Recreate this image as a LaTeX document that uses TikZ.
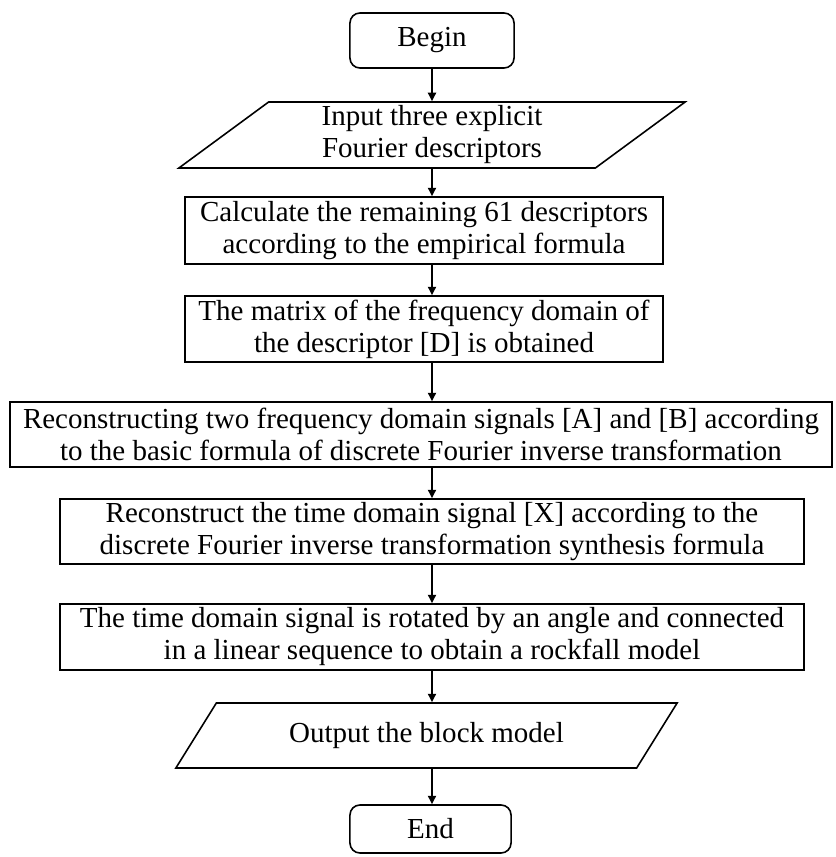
\documentclass[tikz,border=0pt]{standalone}
\usepackage{fontspec}
\setmainfont{Liberation Serif}
\usetikzlibrary{shapes.geometric,arrows.meta}

\begin{document}
\begin{tikzpicture}[x=0.01cm,y=-0.01cm]

	\useasboundingbox (0,0) rectangle (836,857);

	\tikzset{
		txt/.style={font=\fontsize{8.25}{9.1}\selectfont,align=center,inner sep=0pt,line width=0.45pt},
		terminal/.style={txt,draw,rounded corners=0.1cm},
		process/.style={txt,draw},
		io/.style={txt,draw,trapezium,trapezium left angle=33,trapezium right angle=147,trapezium stretches body},
		arr/.style={-{Triangle[length=2.4pt,width=2.3pt]},line width=0.45pt}
	}

	% begin and input
	\node[terminal,minimum width=1.64cm,minimum height=0.55cm] (begin) at (432,40.5) {Begin};
	\node[io,minimum width=5.06cm,minimum height=0.66cm] (input) at (432,135) {Input three explicit\\Fourier descriptors};

	% descriptors
	\node[process,minimum width=4.78cm,minimum height=0.67cm] (calc) at (424,230.5) {Calculate the remaining 61 descriptors\\according to the empirical formula};
	\node[process,minimum width=4.78cm,minimum height=0.66cm] (matrix) at (424,329) {The matrix of the frequency domain of\\the descriptor [D] is obtained};

	% reconstruction
	\node[process,minimum width=8.22cm,minimum height=0.65cm] (recA) at (421,434.5) {Reconstructing two frequency domain signals [A] and [B] according\\to the basic formula of discrete Fourier inverse transformation};
	\node[process,minimum width=7.44cm,minimum height=0.65cm] (recX) at (432,531.5) {Reconstruct the time domain signal [X] according to the\\discrete Fourier inverse transformation synthesis formula};
	\node[process,minimum width=7.44cm,minimum height=0.66cm] (rotate) at (432,637) {The time domain signal is rotated by an angle and connected\\in a linear sequence to obtain a rockfall model};

	% output and end
	\node[io,minimum width=5.01cm,minimum height=0.65cm] (output) at (426.5,735.5) {Output the block model};
	\node[terminal,minimum width=1.61cm,minimum height=0.48cm] (end) at (430.5,829) {End};

	\foreach \a/\b in {begin/input,input/calc,calc/matrix,matrix/recA,recA/recX,recX/rotate,rotate/output,output/end}
		\draw[arr] (\a.south -| begin) -- (\b.north -| begin);

\end{tikzpicture}
\end{document}
